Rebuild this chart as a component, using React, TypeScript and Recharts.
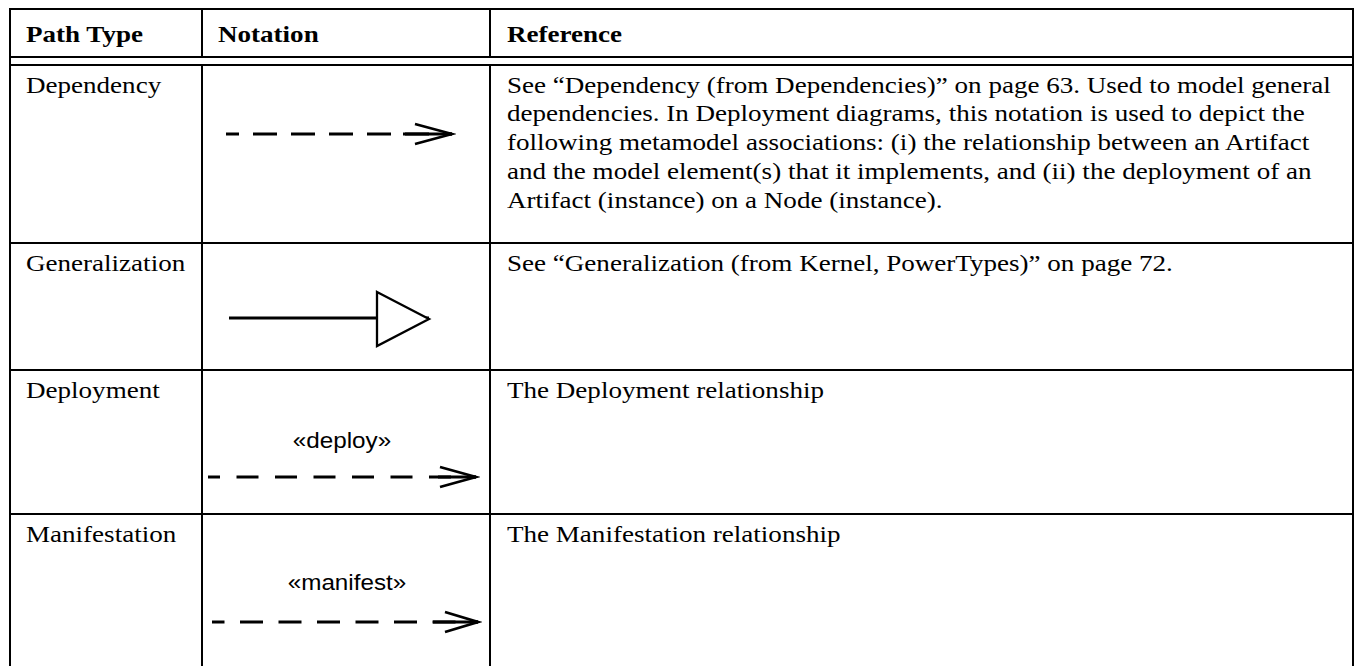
import React from 'react';
import { LineChart, Line, XAxis, YAxis } from 'recharts';

// table content
const headers = ['Path Type', 'Notation', 'Reference'];
const pathTypes = ['Dependency', 'Generalization', 'Deployment', 'Manifestation'];
const arrowHeads = ['open', 'triangle', 'open', 'open'];
const stereotypes = ['', '', '«deploy»', '«manifest»'];
const references = [
  [
    'See “Dependency (from Dependencies)” on page 63. Used to model general',
    'dependencies. In Deployment diagrams, this notation is used to depict the',
    'following metamodel associations: (i) the relationship between an Artifact',
    'and the model element(s) that it implements, and (ii) the deployment of an',
    'Artifact (instance) on a Node (instance).',
  ],
  ['See “Generalization (from Kernel, PowerTypes)” on page 72.'],
  ['The Deployment relationship'],
  ['The Manifestation relationship'],
];
// every notation is a path from its tail (0) to its head (1)
const arrowPath = [{ x: 0, y: 0 }, { x: 1, y: 0 }];

// layout (page pixels)
const colRules = [9, 201, 489, 1352];
const headerTop = 8;
const headerBottom = 56;
const bodyTop = 64;
const rowBottoms = [242, 369, 513, 690];
const rowTops = [bodyTop, 242, 369, 513];
const textX = [26, 218, 507];
const headerBaseline = 42;
const rowBaselineOffset = 29;
const lineGap = 28.8;
const fontSize = 24;
const stretch = 1.127;
const baselineShift = (lineGap - 1.107 * fontSize) / 2 + 0.891 * fontSize;

const arrowLayout = [
  { start: 226, tip: 452, y: 133.5, dash: '24 14', offset: 11, shaft: 49, arm: 37 },
  { start: 229, tip: 429, y: 318, dash: undefined, offset: 0, shaft: 0, arm: 52 },
  { start: 208, tip: 476, y: 477, dash: '22 16.5', offset: 10, shaft: 38, arm: 36 },
  { start: 212, tip: 478, y: 622, dash: '23 15.5', offset: 10.5, shaft: 45, arm: 33 },
];
const stereoLayout = [null, null, { x: 342, baseline: 448 }, { x: 347, baseline: 590 }];

const serif = '"Liberation Serif", "Times New Roman", serif';
const sans = '"Liberation Sans", Arial, sans-serif';
const INK = '#000';

const rule = (left: number, top: number, width: number, height: number, key: string) => (
  <div key={key} style={{ position: 'absolute', left, top, width, height, background: INK }} />
);

const SerifText = ({ x, baseline, text, bold }: { x: number; baseline: number; text: string; bold?: boolean }) => (
  <div
    style={{
      position: 'absolute',
      left: x,
      top: baseline - baselineShift,
      fontFamily: serif,
      fontSize,
      fontWeight: bold ? 700 : 400,
      lineHeight: `${lineGap}px`,
      whiteSpace: 'nowrap',
      color: INK,
      transform: `scaleX(${stretch})`,
      transformOrigin: 'left top',
    }}
  >
    {text}
  </div>
);

const Arrow = ({ row }: { row: number }) => {
  const a = arrowLayout[row];
  const head = arrowHeads[row];
  const w = a.tip - a.start;
  const h = 64;
  const padL = 3;
  const padR = 4;
  const renderHead = (props: any) => {
    const { cx, cy, index } = props;
    if (index !== arrowPath.length - 1) return <g key={`d${index}`} />;
    if (head === 'triangle') {
      const half = 26;
      return (
        <polygon
          key={`d${index}`}
          points={`${cx - a.arm},${cy - half} ${cx},${cy + 1} ${cx - a.arm},${cy + half + 2}`}
          fill="#fff"
          stroke={INK}
          strokeWidth={2.3}
        />
      );
    }
    return (
      <g key={`d${index}`}>
        <line x1={cx - a.shaft} y1={cy} x2={cx} y2={cy} stroke={INK} strokeWidth={3} />
        <polyline
          points={`${cx - a.arm},${cy - 10} ${cx},${cy} ${cx - a.arm},${cy + 10}`}
          fill="none"
          stroke={INK}
          strokeWidth={2.7}
        />
      </g>
    );
  };
  return (
    <div style={{ position: 'absolute', left: a.start - padL, top: a.y - h / 2 }}>
      <LineChart width={w + padL + padR} height={h} data={arrowPath} margin={{ top: 0, right: padR, bottom: 0, left: padL }}>
        <XAxis type="number" dataKey="x" domain={[0, 1]} hide />
        <YAxis type="number" domain={[-1, 1]} hide />
        <Line
          type="linear"
          dataKey="y"
          stroke={INK}
          strokeWidth={3}
          strokeDasharray={a.dash}
          strokeDashoffset={a.offset}
          dot={renderHead}
          activeDot={false}
          isAnimationActive={false}
        />
      </LineChart>
    </div>
  );
};

export default function App() {
  const lines: React.ReactNode[] = [];
  const bottom = rowBottoms[rowBottoms.length - 1];
  // outer verticals
  lines.push(rule(colRules[0], headerTop, 2, bottom - headerTop, 'vl'));
  lines.push(rule(colRules[3], headerTop, 2, bottom - headerTop, 'vr'));
  // inner verticals, broken at the double rule
  colRules.slice(1, 3).forEach((x, i) => {
    lines.push(rule(x, headerTop, 2, headerBottom - headerTop + 1, `vh${i}`));
    lines.push(rule(x, bodyTop, 2, bottom - bodyTop, `vb${i}`));
  });
  const fullW = colRules[3] - colRules[0] + 2;
  lines.push(rule(colRules[0], headerTop, fullW, 2, 'ht'));
  lines.push(rule(colRules[0], headerBottom, fullW, 2, 'hb1'));
  lines.push(rule(colRules[0], bodyTop, fullW, 2, 'hb2'));
  rowBottoms.slice(0, 3).forEach((y, i) => lines.push(rule(colRules[0], y, fullW, 2, `hr${i}`)));

  return (
    <div style={{ position: 'absolute', left: 0, top: 0, width: 1357, height: 666, overflow: 'hidden', background: '#fff' }}>
      {lines}
      {headers.map((t, i) => (
        <SerifText key={`h${i}`} x={textX[i]} baseline={headerBaseline} text={t} bold />
      ))}
      {pathTypes.map((t, r) => (
        <React.Fragment key={`r${r}`}>
          <SerifText x={textX[0]} baseline={rowTops[r] + rowBaselineOffset} text={t} />
          {references[r].map((ln, j) => (
            <SerifText key={`ref${r}-${j}`} x={textX[2]} baseline={rowTops[r] + rowBaselineOffset + j * lineGap} text={ln} />
          ))}
          <Arrow row={r} />
          {stereotypes[r] && stereoLayout[r] && (
            <div
              style={{
                position: 'absolute',
                left: stereoLayout[r]!.x,
                top: stereoLayout[r]!.baseline - 20.5,
                fontFamily: sans,
                fontSize: 21.5,
                lineHeight: '26px',
                whiteSpace: 'nowrap',
                color: INK,
                transform: `translateX(-50%) scaleX(${stretch})`,
                transformOrigin: 'center top',
              }}
            >
              {stereotypes[r]}
            </div>
          )}
        </React.Fragment>
      ))}
    </div>
  );
}
